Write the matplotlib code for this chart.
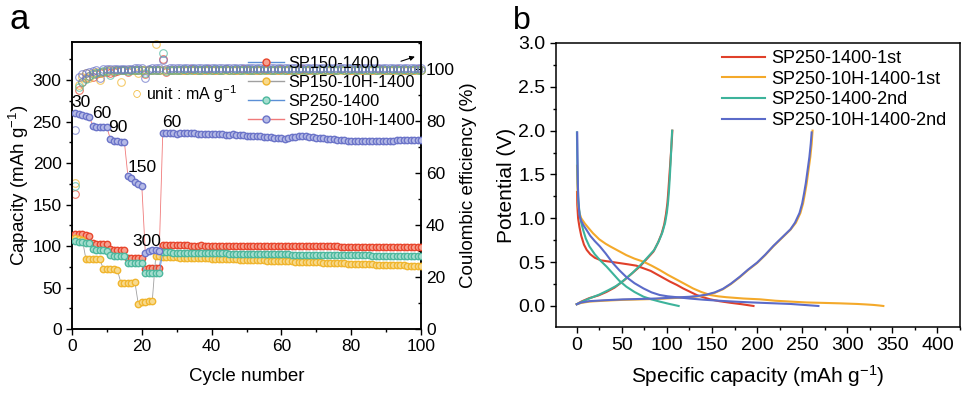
import matplotlib
matplotlib.use("Agg")
import matplotlib.pyplot as plt
from matplotlib.lines import Line2D
from matplotlib.ticker import MultipleLocator

plt.rcParams['font.family'] = ['Liberation Sans', 'DejaVu Sans']
plt.rcParams['mathtext.fontset'] = 'custom'
plt.rcParams['mathtext.rm'] = 'Liberation Sans'
plt.rcParams['mathtext.default'] = 'regular'

# ---------------- panel a data: rate capability ----------------
cycles = list(range(1, 101))
series_a = ["SP150-1400", "SP150-10H-1400", "SP250-1400", "SP250-10H-1400"]

cap_sp150 = [
    115, 114, 114, 113, 112, 104, 103, 103, 102, 102,
    96, 95, 95, 95, 95, 86, 86, 86, 86, 86,
    72, 73, 73, 74, 74, 101, 101, 101, 101, 101,
    101, 100.8, 100.8, 100.6, 100.6, 100.6, 100.8, 100.6, 100.5, 100.5,
    100.5, 100.4, 100.4, 100.4, 100.3, 100.3, 100.3, 100.2, 100.2, 100.2,
    100.1, 100.1, 100.1, 100.0, 100.0, 100.0, 100.0, 99.9, 99.9, 99.9,
    99.8, 99.8, 99.8, 99.8, 99.7, 99.7, 99.7, 99.7, 99.6, 99.6,
    99.6, 99.6, 99.5, 99.5, 99.5, 99.5, 99.4, 99.4, 99.4, 99.4,
    99.3, 99.3, 99.3, 99.2, 99.2, 99.2, 99.1, 99.1, 99.0, 99.0,
    99.0, 98.9, 98.9, 98.9, 98.8, 98.8, 98.8, 98.7, 98.7, 98.6,
]
cap_sp150_10h = [
    110, 108, 107, 84, 84, 84, 84, 84, 72, 72,
    72, 72, 71, 56, 56, 56, 56, 57, 30, 33,
    33, 34, 34, 88.0, 87.5, 87.0, 86.8, 86.6, 86.5, 86.3,
    86.2, 86.0, 85.9, 85.8, 85.6, 85.5, 85.4, 85.2, 85.1, 85.0,
    84.8, 84.7, 84.5, 84.4, 84.2, 84.1, 83.9, 83.8, 83.6, 83.5,
    83.3, 83.2, 83.0, 82.9, 82.7, 82.6, 82.4, 82.2, 82.1, 81.9,
    81.8, 81.6, 81.4, 81.3, 81.1, 81.0, 80.8, 80.6, 80.5, 80.3,
    80.2, 80.0, 79.8, 79.7, 79.5, 79.4, 79.2, 79.0, 78.9, 78.7,
    78.6, 78.4, 78.3, 78.1, 78.0, 77.8, 77.7, 77.5, 77.4, 77.3,
    77.1, 77.0, 76.9, 76.8, 76.6, 76.5, 76.4, 76.3, 76.2, 76.0,
]
cap_sp250 = [
    106, 105, 105, 104, 104, 96, 95, 95, 95, 94,
    89, 88, 88, 88, 88, 80, 80, 80, 80, 79,
    67, 67, 67, 67, 67, 92.5, 92.4, 92.3, 92.2, 92.1,
    92.0, 92.0, 91.9, 91.8, 91.7, 91.7, 91.6, 91.5, 91.4, 91.4,
    91.3, 91.2, 91.1, 91.1, 91.0, 90.9, 90.9, 90.8, 90.7, 90.7,
    90.6, 90.5, 90.5, 90.4, 90.3, 90.3, 90.2, 90.1, 90.1, 90.0,
    89.9, 89.9, 89.8, 89.8, 89.7, 89.6, 89.6, 89.5, 89.5, 89.4,
    89.4, 89.3, 89.3, 89.2, 89.2, 89.1, 89.1, 89.0, 89.0, 88.9,
    88.9, 88.8, 88.8, 88.7, 88.7, 88.6, 88.6, 88.5, 88.5, 88.4,
    88.4, 88.3, 88.3, 88.2, 88.2, 88.1, 88.1, 88.0, 88.0, 87.9,
]
cap_sp250_10h = [
    260, 259, 258, 257, 255, 245, 244, 244, 243, 243,
    229, 227, 227, 226, 226, 185, 182, 177, 175, 173,
    92, 94, 95, 95, 94, 236, 236, 236, 235.8, 235.6,
    235.8, 236, 236.2, 236, 235.8, 235.6, 235.5, 235.4, 235.2, 235,
    235, 234.8, 234.6, 234.4, 234.4, 234.6, 234.4, 234.0, 233.6, 233.2,
    233.0, 232.8, 232.6, 232.2, 231.8, 231.4, 231.0, 230.6, 230.2, 229.8,
    229.6, 230.2, 231.0, 231.8, 232.4, 232.6, 232.4, 231.8, 231.0, 230.4,
    230.0, 229.8, 229.6, 229.2, 228.8, 228.4, 228.0, 227.4, 227.0, 226.6,
    226.4, 226.4, 226.4, 226.4, 226.4, 226.4, 226.4, 226.4, 226.4, 226.4,
    226.6, 227.0, 227.6, 228.0, 228.0, 227.8, 227.8, 227.6, 227.6, 227.4,
]

ce_sp150 = [
    52.0, 92.0, 95.0, 96.5, 97.5, 97.0, 98.0, 98.5, 99.0, 99.0,
    98.5, 99.0, 99.3, 99.5, 99.5, 99.0, 99.5, 99.6, 99.7, 99.7,
    98.0, 99.5, 99.7, 99.8, 99.8, 104.0, 99.0, 99.5, 99.6, 99.7,
    99.8, 99.7, 99.8, 99.9, 99.8, 99.7, 99.8, 99.8, 99.9, 99.8,
    99.7, 99.8, 99.8, 99.9, 99.8, 99.8, 99.7, 99.8, 99.9, 99.8,
    99.8, 99.7, 99.8, 99.8, 99.9, 99.8, 99.8, 99.7, 99.8, 99.9,
    99.8, 99.8, 99.7, 99.8, 99.8, 99.9, 99.8, 99.8, 99.7, 99.8,
    99.9, 99.8, 99.8, 99.7, 99.8, 99.8, 99.9, 99.8, 99.8, 99.7,
    99.8, 99.9, 99.8, 99.8, 99.7, 99.8, 99.8, 99.9, 99.8, 99.8,
    99.7, 99.8, 99.9, 99.8, 99.8, 99.7, 99.8, 99.8, 99.9, 99.8,
]
ce_sp150_10h = [
    56.0, 94.0, 97.0, 98.5, 96.5, 98.5, 99.0, 95.8, 99.0, 99.5,
    99.5, 99.6, 99.6, 95.0, 99.5, 99.7, 99.7, 99.8, 98.5, 99.5,
    99.7, 99.8, 99.8, 109.8, 99.5, 99.6, 99.7, 99.7, 99.8, 99.7,
    99.6, 99.7, 99.8, 99.7, 99.7, 99.6, 99.7, 99.8, 99.7, 99.7,
    99.6, 99.7, 99.8, 99.7, 99.7, 99.6, 99.7, 99.8, 99.7, 99.7,
    99.6, 99.7, 99.8, 99.7, 99.7, 99.6, 99.7, 99.8, 99.7, 99.7,
    99.6, 99.7, 99.8, 99.7, 99.7, 99.6, 99.7, 99.8, 99.7, 99.7,
    99.6, 99.7, 99.8, 99.7, 99.7, 99.6, 99.7, 99.8, 99.7, 99.7,
    99.6, 99.7, 99.8, 99.7, 99.7, 99.6, 99.7, 99.8, 99.7, 99.7,
    99.6, 99.7, 99.8, 99.7, 99.7, 99.6, 99.7, 99.8, 99.7, 99.7,
]
ce_sp250 = [
    55.0, 93.0, 95.0, 96.0, 97.5, 98.0, 98.5, 99.0, 99.2, 99.3,
    97.7, 99.4, 99.5, 99.5, 99.6, 99.2, 99.6, 99.7, 99.7, 99.8,
    98.5, 99.6, 99.7, 99.8, 99.8, 106.0, 99.3, 99.6, 99.7, 99.8,
    99.8, 99.9, 99.8, 99.8, 99.9, 99.8, 99.8, 99.9, 99.8, 99.8,
    99.9, 99.8, 99.8, 99.9, 99.8, 99.8, 99.9, 99.8, 99.8, 99.9,
    99.8, 99.8, 99.9, 99.8, 99.8, 99.9, 99.8, 99.8, 99.9, 99.8,
    99.8, 99.9, 99.8, 99.8, 99.9, 99.8, 99.8, 99.9, 99.8, 99.8,
    99.9, 99.8, 99.8, 99.9, 99.8, 99.8, 99.9, 99.8, 99.8, 99.9,
    99.8, 99.8, 99.9, 99.8, 99.8, 99.9, 99.8, 99.8, 99.9, 99.8,
    99.8, 99.9, 99.8, 99.8, 99.9, 99.8, 99.8, 99.9, 99.8, 99.8,
]
ce_sp250_10h = [
    76.5, 97.0, 98.0, 98.5, 99.0, 99.3, 99.5, 96.5, 100.0, 100.0,
    100.0, 100.1, 100.1, 100.2, 100.2, 100.0, 100.2, 100.3, 100.3, 100.3,
    96.5, 100.2, 100.3, 100.3, 100.3, 103.5, 100.2, 100.3, 100.3, 100.3,
    100.3, 100.4, 100.3, 100.3, 100.3, 100.4, 100.3, 100.3, 100.3, 100.4,
    100.3, 100.3, 100.3, 100.4, 100.3, 100.3, 100.3, 100.4, 100.3, 100.3,
    100.3, 100.4, 100.3, 100.3, 100.3, 100.4, 100.3, 100.3, 100.3, 100.4,
    100.3, 100.3, 100.3, 100.4, 100.3, 100.3, 100.3, 100.4, 100.3, 100.3,
    100.3, 100.4, 100.3, 100.3, 100.3, 100.4, 100.3, 100.3, 100.3, 100.4,
    100.3, 100.3, 100.3, 100.4, 100.3, 100.3, 100.3, 100.4, 100.3, 100.3,
    100.3, 100.4, 100.3, 100.3, 100.3, 100.4, 100.3, 100.3, 100.3, 100.4,
]

rate_labels = ["30", "60", "90", "150", "300", "60"]
rate_label_x = [2.6, 8.6, 13.2, 20.0, 21.5, 28.6]
rate_label_y = [273, 260, 243, 195, 106, 249]

# ---------------- panel b data: charge/discharge profiles ----------------
series_b = ["SP250-1400-1st", "SP250-10H-1400-1st", "SP250-1400-2nd", "SP250-10H-1400-2nd"]

red_dis_cap = [0.3, 0.6, 1.5, 3, 5, 8, 11, 15, 20, 27, 37, 47, 57, 66, 74, 82, 89, 96, 103,
               111, 118, 126, 133, 140, 148, 158, 170, 183, 196]
red_dis_v = [1.30, 1.15, 1.0, 0.9, 0.80, 0.70, 0.64, 0.59, 0.55, 0.52, 0.505, 0.49, 0.475, 0.46,
             0.43, 0.40, 0.36, 0.32, 0.28, 0.24, 0.20, 0.16, 0.125, 0.10, 0.076, 0.055, 0.037, 0.02, 0.0]
red_chg_cap = [0, 5, 14, 24, 33, 42, 51, 60, 70, 78, 85, 90, 94, 97, 99, 100.5, 101.5, 102.5,
               103.5, 104.5, 105.5, 106]
red_chg_v = [0.02, 0.05, 0.09, 0.12, 0.16, 0.21, 0.28, 0.36, 0.45, 0.54, 0.62, 0.72, 0.82, 0.93,
             1.05, 1.17, 1.30, 1.45, 1.60, 1.75, 1.90, 2.0]

org_dis_cap = [0.3, 0.8, 1.5, 3, 5, 9, 13, 18, 25, 32, 37, 46, 55, 64, 74, 83, 92, 101, 111, 120,
               129, 138, 148, 157, 166, 185, 203, 220, 237, 255, 274, 292, 311, 320, 329, 335, 340]
org_dis_v = [1.60, 1.35, 1.15, 1.06, 1.00, 0.94, 0.89, 0.83, 0.76, 0.71, 0.68, 0.63, 0.58, 0.54,
             0.505, 0.46, 0.41, 0.355, 0.30, 0.25, 0.20, 0.16, 0.125, 0.11, 0.10, 0.085, 0.076,
             0.06, 0.05, 0.04, 0.035, 0.03, 0.023, 0.018, 0.012, 0.006, 0.0]
org_chg_cap = [0, 5, 14, 30, 51, 70, 88, 107, 125, 135, 144, 153, 162, 171, 181, 190, 200, 209,
               218, 228, 237, 243, 248, 251, 253, 255, 257, 259, 260.5, 261.5]
org_chg_v = [0.02, 0.035, 0.05, 0.06, 0.07, 0.075, 0.08, 0.09, 0.10, 0.11, 0.125, 0.15, 0.19,
             0.25, 0.33, 0.41, 0.49, 0.58, 0.68, 0.78, 0.87, 0.95, 1.06, 1.17, 1.28, 1.40, 1.55,
             1.70, 1.85, 2.0]

teal_dis_cap = [0.2, 0.5, 1.0, 1.5, 2.5, 3.5, 5, 7, 10, 14, 20, 26, 33, 40, 47, 55, 64, 74, 83,
                92, 102, 113]
teal_dis_v = [1.98, 1.75, 1.45, 1.25, 1.12, 1.02, 0.95, 0.87, 0.77, 0.68, 0.59, 0.52, 0.45, 0.37,
              0.29, 0.22, 0.16, 0.106, 0.075, 0.05, 0.025, 0.0]
teal_chg_cap = [0, 6, 15, 25, 35, 44, 53, 62, 71, 79, 86, 91, 95, 98, 100, 101.3, 102.3, 103.2,
                104, 104.7, 105.3, 105.8]
teal_chg_v = [0.02, 0.05, 0.09, 0.13, 0.18, 0.23, 0.30, 0.38, 0.47, 0.56, 0.64, 0.74, 0.84, 0.95,
              1.07, 1.19, 1.32, 1.47, 1.62, 1.77, 1.91, 2.0]

blue_dis_cap = [0.5, 0.8, 1.2, 1.8, 2.5, 3.3, 5, 7.5, 10.7, 15, 20, 25.6, 32, 40, 47, 55, 64, 74,
                83, 92, 101, 111, 125, 140, 162, 180, 200, 220, 237, 252, 268]
blue_dis_v = [1.98, 1.70, 1.40, 1.20, 1.10, 1.02, 0.97, 0.92, 0.87, 0.80, 0.74, 0.68, 0.60, 0.49,
              0.41, 0.33, 0.26, 0.20, 0.155, 0.125, 0.11, 0.10, 0.085, 0.072, 0.057, 0.047, 0.038,
              0.030, 0.023, 0.012, 0.0]
blue_chg_cap = [0, 5, 14, 30, 51, 70, 88, 107, 125, 135, 144, 153, 162, 171, 181, 190, 200, 209,
                218, 228, 237, 242, 247, 250, 252, 254, 256, 258, 259.5, 260.5]
blue_chg_v = [0.02, 0.04, 0.055, 0.065, 0.075, 0.08, 0.085, 0.095, 0.105, 0.115, 0.13, 0.155,
              0.195, 0.255, 0.335, 0.415, 0.495, 0.585, 0.685, 0.785, 0.875, 0.95, 1.06, 1.17,
              1.28, 1.40, 1.55, 1.70, 1.85, 1.98]

# colours
col_a = ['#E8462D', '#F0B52E', '#4DB89E', '#6B74C8']
face_a = ['#F6A08F', '#F8DA8E', '#A6DECF', '#B5BAE6']
link_a = ['#5B8FD6', '#A0A0A0', '#5B8FD6', '#F07A7A']
col_b = ['#E0402A', '#F4A92A', '#3DB39B', '#5B6BC9']

fig = plt.figure(figsize=(9.69, 3.93), dpi=100)

# ================= panel a =================
ax = fig.add_axes([0.0743, 0.1628, 0.3602, 0.7303])
ax2 = ax.twinx()

caps = [cap_sp150, cap_sp150_10h, cap_sp250, cap_sp250_10h]
ces = [ce_sp150, ce_sp150_10h, ce_sp250, ce_sp250_10h]

for i in range(4):
    ax2.plot(cycles, ces[i], ls='none', marker='o', ms=5.5, mfc='none',
             mec=col_a[i], mew=0.8, alpha=0.7, clip_on=False)
for i in range(4):
    ax.plot(cycles, caps[i], color=link_a[i], lw=0.6, marker='o', ms=4.6,
            mfc=face_a[i], mec=col_a[i], mew=1.0, zorder=3)

ax.set_zorder(ax2.get_zorder() + 1)
ax.patch.set_visible(False)

ax.set_xlim(0, 100)
ax.set_ylim(0, 346)
ax2.set_ylim(0, 110.4)
ax.xaxis.set_major_locator(MultipleLocator(20))
ax.xaxis.set_minor_locator(MultipleLocator(10))
ax.yaxis.set_major_locator(MultipleLocator(50))
ax.yaxis.set_minor_locator(MultipleLocator(25))
ax2.yaxis.set_major_locator(MultipleLocator(20))
ax2.yaxis.set_minor_locator(MultipleLocator(10))
ax.tick_params(axis='both', which='major', direction='out', length=4, width=1, labelsize=12.5)
ax.tick_params(axis='both', which='minor', direction='out', length=2.5, width=1)
ax2.tick_params(axis='y', which='major', direction='in', length=4, width=1, labelsize=12.5)
ax2.tick_params(axis='y', which='minor', direction='in', length=2.5, width=1)
for a in (ax, ax2):
    for s in a.spines.values():
        s.set_linewidth(1.1)

ax.set_xlabel('Cycle number', fontsize=13.5, labelpad=10)
ax.set_ylabel('Capacity (mAh g$^{-1}$)', fontsize=13.5, labelpad=1)
ax2.set_ylabel('Coulombic efficiency (%)', fontsize=13.5, labelpad=4)

for lab, lx, ly in zip(rate_labels, rate_label_x, rate_label_y):
    ax.text(lx, ly, lab, fontsize=12.5, ha='center', va='center')

ax.text(18.6, 283, '\u25cb', color=col_a[1], fontsize=12, ha='center', va='center')
ax.text(21.2, 283, 'unit : mA g$^{-1}$', fontsize=11.5, ha='left', va='center')

handles_a = [Line2D([], [], color=link_a[i], lw=1.0, marker='o', ms=5,
                    mfc=face_a[i], mec=col_a[i]) for i in range(4)]
ax.legend(handles_a, series_a, loc='upper left', bbox_to_anchor=(0.505, 0.953),
          frameon=False, fontsize=11.8, handlelength=2.2, handletextpad=0.25,
          labelspacing=0.25, borderpad=0, borderaxespad=0)
ax.annotate('', xy=(0.99, 0.952), xytext=(0.935, 0.930), xycoords='axes fraction',
            arrowprops=dict(arrowstyle='-|>', color='black', lw=0.8, mutation_scale=7))

# ================= panel b =================
bx = fig.add_axes([0.5738, 0.1679, 0.4169, 0.7227])
profiles = [
    (red_dis_cap, red_dis_v, red_chg_cap, red_chg_v),
    (org_dis_cap, org_dis_v, org_chg_cap, org_chg_v),
    (teal_dis_cap, teal_dis_v, teal_chg_cap, teal_chg_v),
    (blue_dis_cap, blue_dis_v, blue_chg_cap, blue_chg_v),
]
for i, (dc, dv, cc, cv) in enumerate(profiles):
    bx.plot(dc, dv, color=col_b[i], lw=1.5, label=series_b[i])
    bx.plot(cc, cv, color=col_b[i], lw=1.5)

bx.set_xlim(-23, 425)
bx.set_ylim(-0.24, 3.0)
bx.xaxis.set_major_locator(MultipleLocator(50))
bx.xaxis.set_minor_locator(MultipleLocator(25))
bx.yaxis.set_major_locator(MultipleLocator(0.5))
bx.yaxis.set_minor_locator(MultipleLocator(0.25))
bx.yaxis.set_major_formatter(matplotlib.ticker.FormatStrFormatter('%.1f'))
bx.tick_params(which='major', direction='out', length=4, width=1, labelsize=14)
bx.tick_params(which='minor', direction='out', length=2.5, width=1)
for s in bx.spines.values():
    s.set_linewidth(1.1)
bx.set_xlabel('Specific capacity (mAh g$^{-1}$)', fontsize=15, labelpad=6)
bx.set_ylabel('Potential (V)', fontsize=15, labelpad=2)
bx.legend(loc='upper left', bbox_to_anchor=(0.41, 0.975), frameon=False, fontsize=13,
          handlelength=2.4, handletextpad=0.35, labelspacing=0.2, borderpad=0,
          borderaxespad=0)

fig.text(0.010, 0.925, 'a', fontsize=25)
fig.text(0.529, 0.925, 'b', fontsize=23)

fig.savefig('out.png', dpi=100)
